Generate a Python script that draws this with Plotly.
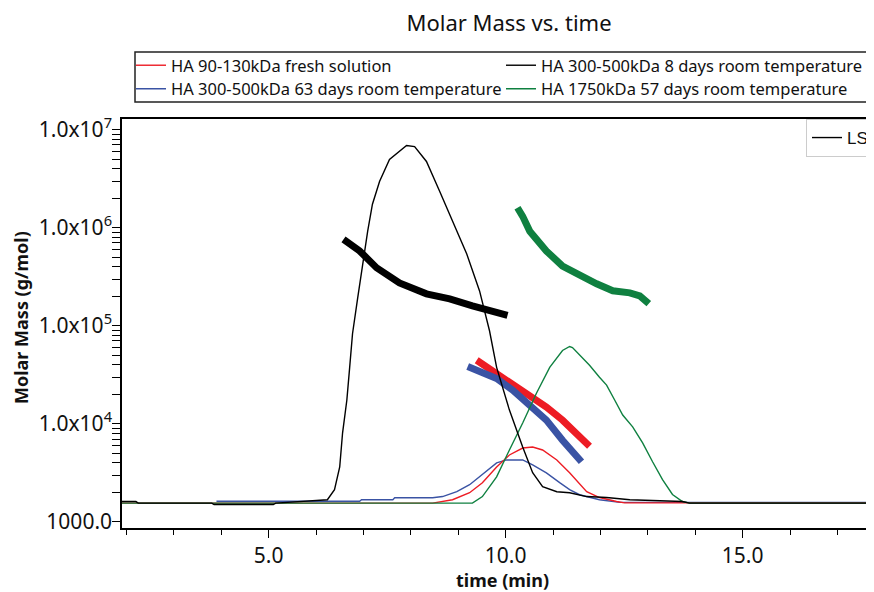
import plotly.graph_objects as go

# ---------------- data ----------------
# Molar-mass traces (thick)
mm_red_t = [9.39, 9.81, 10.15, 10.51, 10.86, 11.20, 11.56, 11.77]
mm_red_M = [4.45e4, 3.27e4, 2.59e4, 1.95e4, 1.48e4, 1.09e4, 7.3e3, 5.9e3]

mm_blue_t = [9.20, 9.81, 10.15, 10.51, 10.86, 11.20, 11.60]
mm_blue_M = [3.85e4, 2.90e4, 2.20e4, 1.55e4, 1.09e4, 6.8e3, 4.1e3]

mm_black_t = [6.58, 6.92, 7.28, 7.76, 8.33, 8.82, 9.30, 9.66, 10.04]
mm_black_M = [7.6e5, 5.8e5, 3.9e5, 2.74e5, 2.12e5, 1.88e5, 1.60e5, 1.46e5, 1.28e5]

mm_green_t = [10.25, 10.36, 10.51, 10.86, 11.20, 11.56, 11.92, 12.26, 12.62, 12.83, 13.02]
mm_green_M = [1.6e6, 1.31e6, 9.2e5, 5.8e5, 4.07e5, 3.23e5, 2.68e5, 2.28e5, 2.17e5, 2.02e5, 1.68e5]

# LS signal traces (thin)
ls_red_t = [1.90, 8.46, 8.88, 9.24, 9.51, 9.81, 10.08, 10.36, 10.57, 10.78, 11.08, 11.35,
            11.71, 11.98, 12.34, 12.51, 18.00]
ls_red_M = [1.55e3, 1.55e3, 1.68e3, 1.98e3, 2.50e3, 3.63e3, 4.81e3, 5.66e3, 5.80e3, 5.41e3,
            4.28e3, 3.16e3, 2.03e3, 1.77e3, 1.61e3, 1.56e3, 1.56e3]

ls_blue_t = [3.90, 6.92, 6.96, 7.62, 7.66, 8.46, 8.67, 8.97, 9.24, 9.51, 9.81, 10.02, 10.36,
             10.57, 10.86, 11.14, 11.35, 11.56, 11.98, 12.41, 18.00]
ls_blue_M = [1.62e3, 1.62e3, 1.68e3, 1.68e3, 1.76e3, 1.76e3, 1.81e3, 2.03e3, 2.39e3, 3.02e3,
             3.99e3, 4.28e3, 4.28e3, 3.81e3, 3.16e3, 2.51e3, 2.13e3, 1.89e3, 1.68e3, 1.58e3, 1.58e3]

ls_black_t = [1.90, 2.20, 2.25, 3.80, 3.85, 5.10, 5.15, 6.24, 6.39, 6.50, 6.56, 6.65, 6.71,
              6.77, 6.88, 6.98, 7.09, 7.19, 7.34, 7.55, 7.76, 7.91, 8.08, 8.33, 8.61, 8.88,
              9.18, 9.45, 9.66, 9.81, 10.08, 10.36, 10.57, 10.78, 11.08, 11.35, 11.71, 12.13,
              12.62, 13.73, 13.88, 18.00]
ls_black_M = [1.61e3, 1.61e3, 1.55e3, 1.55e3, 1.50e3, 1.50e3, 1.55e3, 1.68e3, 2.13e3, 3.64e3,
              8.05e3, 1.74e4, 3.77e4, 8.3e4, 1.94e5, 4.29e5, 9.25e5, 1.74e6, 2.97e6, 4.97e6,
              6.0e6, 6.9e6, 6.74e6, 4.75e6, 2.35e6, 1.16e6, 5.4e5, 2.27e5, 8.9e4, 3.77e4,
              1.38e4, 5.8e3, 3.17e3, 2.29e3, 2.03e3, 1.98e3, 1.81e3, 1.77e3, 1.68e3, 1.61e3,
              1.55e3, 1.55e3]

ls_green_t = [1.90, 9.30, 9.51, 9.81, 10.08, 10.36, 10.65, 10.93, 11.20, 11.35, 11.41, 11.62,
              11.77, 11.98, 12.13, 12.30, 12.47, 12.68, 12.89, 13.10, 13.31, 13.52, 13.73,
              13.88, 18.00]
ls_green_M = [1.55e3, 1.55e3, 1.81e3, 2.88e3, 5.41e3, 1.02e4, 2.05e4, 3.76e4, 5.6e4, 6.15e4,
              6.0e4, 4.76e4, 3.95e4, 2.99e4, 2.48e4, 1.75e4, 1.23e4, 9.3e3, 6.4e3, 4.1e3,
              2.69e3, 1.90e3, 1.61e3, 1.55e3, 1.55e3]

series_names = ["HA 90-130kDa fresh solution",
                "HA 300-500kDa 63 days room temperature",
                "HA 300-500kDa 8 days room temperature",
                "HA 1750kDa 57 days room temperature"]

y_major = [1e3, 1e4, 1e5, 1e6, 1e7]
y_major_text = ["1000.0", "1.0x10<sup>4</sup>", "1.0x10<sup>5</sup>",
                "1.0x10<sup>6</sup>", "1.0x10<sup>7</sup>"]

# ---------------- styling ----------------
RED = "#ED1C24"
BLUE = "#3A53A4"
BLACK = "#000000"
GREEN = "#0F8040"
FONT = "Noto Sans"
W, H = 874, 592
# the page shows the figure offset by the 8px body margin; positions below are
# figure-canvas pixels (= page pixels - 8)
L, T, B = 114, 111, 72
PW, PH = W - L, H - T - B

fig = go.Figure()

# thick molar-mass curves
for t, m, c in [(mm_black_t, mm_black_M, BLACK), (mm_green_t, mm_green_M, GREEN),
                (mm_red_t, mm_red_M, RED), (mm_blue_t, mm_blue_M, BLUE)]:
    fig.add_trace(go.Scatter(x=t, y=m, mode="lines", line=dict(color=c, width=7),
                             showlegend=False, hoverinfo="skip"))

# thin LS curves (each with its own legend slot)
fig.add_trace(go.Scatter(x=ls_blue_t, y=ls_blue_M, mode="lines", line=dict(color=BLUE, width=1.4),
                         name=series_names[1], legend="legend3"))
fig.add_trace(go.Scatter(x=ls_red_t, y=ls_red_M, mode="lines", line=dict(color=RED, width=1.4),
                         name=series_names[0], legend="legend"))
fig.add_trace(go.Scatter(x=ls_green_t, y=ls_green_M, mode="lines", line=dict(color=GREEN, width=1.4),
                         name=series_names[3], legend="legend4"))
fig.add_trace(go.Scatter(x=ls_black_t, y=ls_black_M, mode="lines", line=dict(color=BLACK, width=1.4),
                         name=series_names[2], legend="legend2"))
# LS legend entry
fig.add_trace(go.Scatter(x=[None], y=[None], mode="lines", line=dict(color=BLACK, width=1.4),
                         name="LS", legend="legend5"))


def leg(px, py):
    return dict(x=px / W, y=1 - py / H, xref="container", yref="container",
                xanchor="left", yanchor="middle", bgcolor="rgba(0,0,0,0)", borderwidth=0,
                itemwidth=30, font=dict(family=FONT, size=16.5, color="#111"))


def px_x(px):  # canvas px -> paper x
    return (px - L) / PW


def px_y(py):  # canvas px -> paper y
    return (T + PH - py) / PH


minor_y = [k * 10 ** e for e in range(3, 7) for k in range(2, 10)]

fig.update_layout(
    width=W, height=H,
    margin=dict(l=L, r=0, t=T, b=B, autoexpand=False),
    paper_bgcolor="white", plot_bgcolor="white",
    title=dict(text="Molar Mass vs. time", x=501 / W, xanchor="center", xref="container",
               y=1 - 15 / H, yanchor="middle", yref="container",
               font=dict(family=FONT, size=22, color="#111")),
    legend=leg(123, 57.5),
    legend2=leg(493, 57.5),
    legend3=leg(123, 81),
    legend4=leg(493, 81),
    legend5=dict(x=798 / W, y=1 - 130 / H, xref="container", yref="container",
                 xanchor="left", yanchor="middle", bgcolor="white",
                 bordercolor="#cccccc", borderwidth=1, itemwidth=30,
                 font=dict(family="Liberation Sans", size=17, color="#111")),
    xaxis=dict(range=[1.907, 17.94], showgrid=False, zeroline=False,
               showline=True, linecolor="black", linewidth=1.5, mirror=True,
               ticks="outside", ticklen=8, tickwidth=1, tickcolor="black",
               tick0=0, dtick=5, tickformat=".1f",
               minor=dict(dtick=1, tick0=0, ticks="outside", ticklen=5, tickcolor="black"),
               tickfont=dict(family=FONT, size=21, color="#111")),
    yaxis=dict(type="log", range=[2.937, 7.11], showgrid=False, zeroline=False,
               showline=True, linecolor="black", linewidth=1.5,
               ticks="outside", ticklen=8, tickwidth=1, tickcolor="black",
               tickmode="array", tickvals=y_major, ticktext=y_major_text,
               ticklabelstandoff=-4,
               minor=dict(tickmode="array", tickvals=minor_y, ticks="outside",
                          ticklen=8, tickcolor="black"),
               tickfont=dict(family=FONT, size=21, color="#111")),
    annotations=[
        dict(text="<b>time (min)</b>", xref="paper", yref="paper",
             x=px_x(495), y=px_y(572), xanchor="center", yanchor="middle", showarrow=False,
             font=dict(family=FONT, size=18, color="#111")),
        dict(text="<b>Molar Mass (g/mol)</b>", xref="paper", yref="paper",
             x=px_x(13), y=px_y(310), xanchor="center", yanchor="middle", showarrow=False,
             textangle=-90, font=dict(family=FONT, size=18, color="#111")),
    ],
    shapes=[dict(type="rect", xref="paper", yref="paper",
                 x0=px_x(127), x1=1.05, y0=px_y(94), y1=px_y(44),
                 line=dict(color="#222", width=1.5), fillcolor="rgba(0,0,0,0)")],
)

fig.write_html("out.html")
